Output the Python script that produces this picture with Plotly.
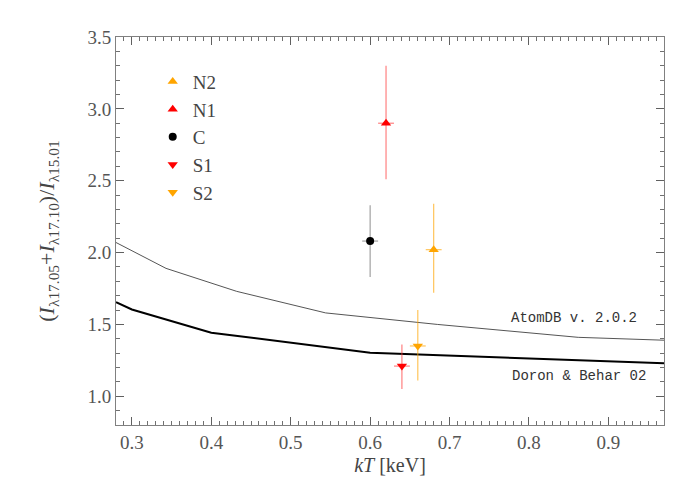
import plotly.graph_objects as go

# ---- data ----
names = ["N2", "N1", "C", "S1", "S2"]
kT = [0.68, 0.62, 0.60, 0.64, 0.66]
ratio = [2.02, 2.90, 2.08, 1.21, 1.35]
err_up = [0.32, 0.40, 0.25, 0.15, 0.25]
err_dn = [0.30, 0.39, 0.25, 0.16, 0.24]
kT_err = [0.01, 0.01, 0.01, 0.01, 0.01]
symbols = ["triangle-up", "triangle-up", "circle", "triangle-down", "triangle-down"]
colors = ["#FFA500", "#FF0000", "#000000", "#FF0000", "#FFA500"]
bar_colors = ["rgba(255,165,0,0.65)", "rgba(255,60,60,0.65)", "rgba(110,110,110,0.65)",
              "rgba(255,60,60,0.65)", "rgba(255,165,0,0.65)"]

atomdb_kT = [0.28, 0.343, 0.432, 0.544, 0.6845, 0.862, 0.97]
atomdb_ratio = [2.07, 1.89, 1.73, 1.58, 1.50, 1.41, 1.39]
doron_kT = [0.28, 0.30, 0.40, 0.60, 0.97]
doron_ratio = [1.655, 1.604, 1.442, 1.303, 1.229]

x_ticks = [0.3, 0.4, 0.5, 0.6, 0.7, 0.8, 0.9]
y_ticks = [1.0, 1.5, 2.0, 2.5, 3.0, 3.5]

fig = go.Figure()

fig.add_trace(go.Scatter(x=atomdb_kT, y=atomdb_ratio, mode="lines",
                         line=dict(color="#555555", width=1), showlegend=False,
                         hoverinfo="skip"))
fig.add_trace(go.Scatter(x=doron_kT, y=doron_ratio, mode="lines",
                         line=dict(color="#000000", width=2), showlegend=False,
                         hoverinfo="skip"))

for i, n in enumerate(names):
    fig.add_trace(go.Scatter(
        x=[kT[i]], y=[ratio[i]], mode="markers", name=n,
        marker=dict(symbol=symbols[i], color=colors[i], size=9 if symbols[i] != "circle" else 8,
                    line=dict(width=0)),
        error_y=dict(type="data", symmetric=False, array=[err_up[i]], arrayminus=[err_dn[i]],
                     color=bar_colors[i], thickness=1.2, width=0),
        error_x=dict(type="data", array=[kT_err[i]], color=bar_colors[i], thickness=1.2, width=0),
    ))

fig.add_annotation(x=0.857, y=1.545, xref="x", yref="y", text="AtomDB v. 2.0.2",
                   showarrow=False, font=dict(family="Liberation Mono", size=14, color="#333333"))
fig.add_annotation(x=0.863, y=1.14, xref="x", yref="y", text="Doron &amp; Behar 02",
                   showarrow=False, font=dict(family="Liberation Mono", size=14, color="#333333"))

axis_common = dict(showline=True, linecolor="#808080", linewidth=1, mirror="allticks",
                   ticks="inside", tickcolor="#606060", tickwidth=1, showgrid=False,
                   zeroline=False, automargin=False,
                   tickfont=dict(family="Liberation Serif", size=19, color="#555555"))

fig.update_xaxes(range=[0.28, 0.97], tickmode="array", tickvals=x_ticks,
                 ticktext=[f"{v:.1f}" for v in x_ticks],
                 ticklen=8, minor=dict(dtick=0.01, tick0=0.0, ticks="inside", ticklen=4,
                                       tickcolor="#707070", tickwidth=1),
                 title=dict(text="<i>kT</i> [keV]", standoff=6,
                            font=dict(family="Liberation Serif", size=20, color="#444444")),
                 **axis_common)
fig.update_yaxes(range=[0.8, 3.5], tickmode="array", tickvals=y_ticks,
                 ticktext=[f"{v:.1f}" for v in y_ticks],
                 ticklen=8, minor=dict(dtick=0.1, tick0=0.0, ticks="inside", ticklen=4,
                                       tickcolor="#707070", tickwidth=1),
                 title=dict(text="(<i>I</i><sub>λ17.05</sub>+<i>I</i><sub>λ17.10</sub>)/<i>I</i><sub>λ15.01</sub>",
                            standoff=26,
                            font=dict(family="Liberation Serif", size=22, color="#444444")),
                 **axis_common)

fig.update_layout(
    width=700, height=500,
    margin=dict(l=116, r=36, t=37, b=75),
    paper_bgcolor="white", plot_bgcolor="white",
    legend=dict(x=0.067, y=0.934, xanchor="left", yanchor="top", tracegroupgap=0,
                font=dict(family="Liberation Serif", size=19, color="#444444"),
                bgcolor="rgba(0,0,0,0)", itemclick=False),
)

fig.write_html("out.html", post_script="document.body.style.margin='0';",
               config={"displayModeBar": False})
